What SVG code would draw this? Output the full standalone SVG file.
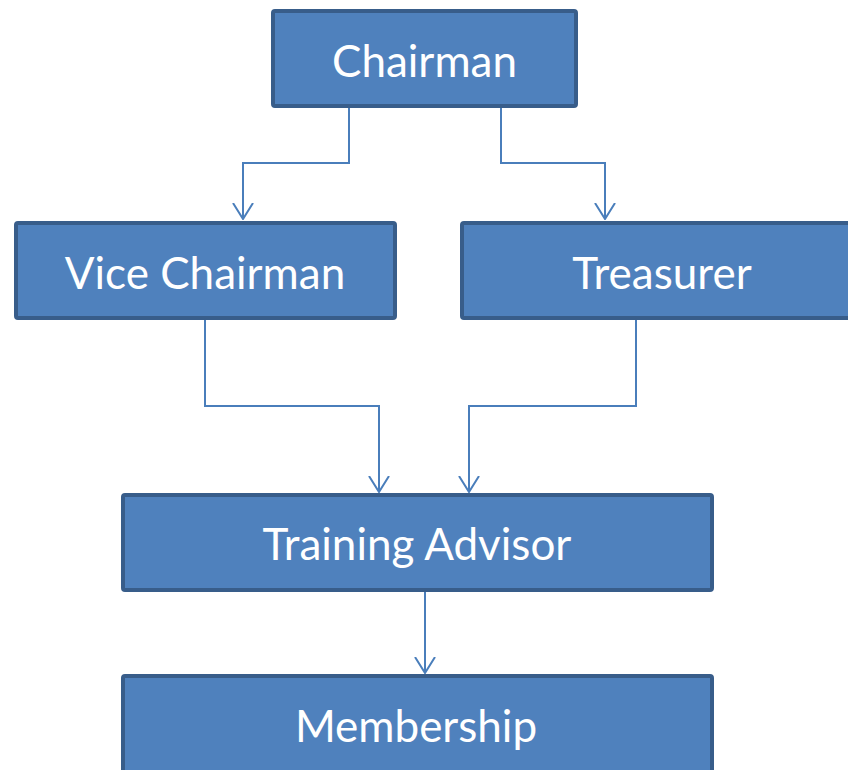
<svg xmlns="http://www.w3.org/2000/svg" width="848" height="770" viewBox="0 0 848 770">
<style>
.box{fill:#4F81BD;stroke:#385D8A;stroke-width:4;}
.lbl{fill:#FFFFFF;font-family:Lato,"Open Sans","Liberation Sans",sans-serif;font-size:44px;text-anchor:middle;}
.con{fill:none;stroke:#4A7EBB;stroke-width:2;}
</style>
<defs>
<marker id="arr" viewBox="0 0 17 22" refX="16" refY="11" markerWidth="17" markerHeight="22" markerUnits="userSpaceOnUse" orient="auto">
<path d="M0,1 L16,11 L0,21" fill="none" stroke="#4A7EBB" stroke-width="2"/>
</marker>
</defs>
<rect width="848" height="770" fill="#FFFFFF"/>
<g id="connectors">
<path class="con" d="M349,108 V163 H243 V219" marker-end="url(#arr)"/>
<path class="con" d="M501,108 V163 H605 V219" marker-end="url(#arr)"/>
<path class="con" d="M205,320 V406 H379 V492" marker-end="url(#arr)"/>
<path class="con" d="M636,320 V406 H469 V492" marker-end="url(#arr)"/>
<path class="con" d="M425,592 V673" marker-end="url(#arr)"/>
</g>
<g id="chairman">
<rect class="box" x="273" y="11" width="303" height="95" rx="2"/>
<text class="lbl" x="424.5" y="77">Chairman</text>
</g>
<g id="vice-chairman">
<rect class="box" x="16" y="223" width="379" height="95" rx="2"/>
<text class="lbl" x="205" y="289">Vice Chairman</text>
</g>
<g id="treasurer">
<rect class="box" x="462" y="223" width="400" height="95" rx="2"/>
<text class="lbl" x="662" y="289">Treasurer</text>
</g>
<g id="training-advisor">
<rect class="box" x="123" y="495" width="589" height="95" rx="2"/>
<text class="lbl" x="417" y="560">Training Advisor</text>
</g>
<g id="membership">
<rect class="box" x="123" y="676" width="589" height="120" rx="2"/>
<text class="lbl" x="416" y="742">Membership</text>
</g>
</svg>
